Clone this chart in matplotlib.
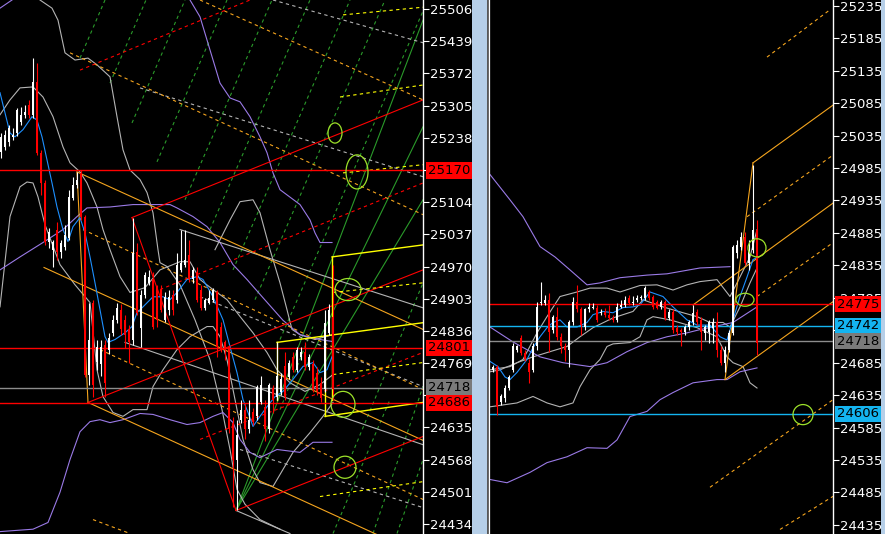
import matplotlib
matplotlib.use("Agg")
import matplotlib.pyplot as plt
from matplotlib.patches import Ellipse, Rectangle
from matplotlib.lines import Line2D

RED = "#ff0000"
ORANGE = "#f5a51e"
YELLOW = "#ffff00"
GREEN = "#2a9a2a"
SILVER = "#b4b4b4"
GRAYH = "#8c8c8c"
PURPLE = "#9a7ae6"
BLUE = "#1e90ff"
SKY = "#14b4f0"
LIME = "#9de22a"
GRAYBOX = "#7a7a7a"

# ---------------- left chart data ----------------
l_open = [25209, 25219, 25230, 25240, 25248, 25271, 25286, 25307, 25286, 25354,
          25207, 25144, 25022, 25005, 25047, 25001, 25011, 25030, 25113, 25140,
          25165, 25074, 24745, 24895, 24772, 24766, 24807, 24797, 24832, 24859,
          24880, 24859, 24839, 24818, 25001, 24843, 24911, 24936, 24943, 24928,
          24922, 24859, 24880, 24911, 24901, 24963, 24974, 24995, 24943, 24959,
          24922, 24884, 24895, 24901, 24916, 24845, 24812, 24803, 24645, 24568,
          24651, 24672, 24631, 24668, 24658, 24687, 24678, 24631, 24718, 24699,
          24708, 24762, 24739, 24782, 24755, 24782, 24791, 24760, 24766, 24749,
          24728, 24714, 24832, 24864]
l_high = [25248, 25255, 25265, 25259, 25300, 25302, 25307, 25317, 25404, 25394,
          25213, 25151, 25051, 25026, 25063, 25026, 25057, 25130, 25157, 25167,
          25171, 25078, 24895, 24901, 24818, 24818, 24818, 24832, 24870, 24895,
          24891, 24870, 24849, 25072, 25020, 24922, 24959, 24963, 24959, 24932,
          24932, 24916, 24922, 24922, 24999, 25047, 25047, 25026, 24968, 24968,
          24932, 24905, 24922, 24926, 24922, 24855, 24818, 24807, 24656, 24651,
          24693, 24683, 24693, 24676, 24724, 24741, 24693, 24728, 24724, 24812,
          24749, 24793, 24776, 24793, 24803, 24803, 24812, 24787, 24776, 24760,
          24739, 24880, 24891, 24974]
l_low = [25196, 25213, 25221, 25234, 25242, 25265, 25280, 25280, 25280, 25203,
         25119, 25015, 25009, 24970, 24984, 24988, 25005, 25026, 25109, 25134,
         25067, 24739, 24724, 24699, 24755, 24741, 24699, 24787, 24826, 24853,
         24828, 24801, 24770, 24807, 24870, 24803, 24905, 24932, 24839, 24845,
         24876, 24855, 24870, 24870, 24895, 24959, 24968, 24938, 24936, 24897,
         24880, 24880, 24891, 24897, 24782, 24793, 24776, 24624, 24470, 24464,
         24645, 24610, 24624, 24641, 24651, 24683, 24606, 24624, 24666, 24693,
         24703, 24693, 24735, 24751, 24751, 24776, 24755, 24755, 24708, 24703,
         24687, 24708, 24828, 24693]
l_close = [25240, 25244, 25259, 25244, 25296, 25286, 25292, 25286, 25354, 25207,
           25144, 25022, 25042, 25022, 25001, 25020, 25036, 25115, 25140, 25151,
           25074, 24745, 24818, 24724, 24803, 24803, 24728, 24822, 24859, 24884,
           24839, 24828, 24812, 24999, 24874, 24911, 24953, 24949, 24845, 24859,
           24880, 24907, 24907, 24880, 24974, 24978, 24984, 24943, 24963, 24901,
           24884, 24901, 24905, 24922, 24803, 24797, 24797, 24631, 24568, 24620,
           24672, 24631, 24651, 24647, 24720, 24724, 24631, 24724, 24693, 24741,
           24735, 24699, 24770, 24755, 24797, 24793, 24760, 24782, 24714, 24710,
           24697, 24853, 24880, 24714]

l_ticks = [25506, 25439, 25372, 25305, 25238, 25170, 25104, 25037, 24970, 24903,
           24836, 24769, 24702, 24635, 24568, 24501, 24434]
l_marks = [(25170, RED), (24801, RED), (24718, GRAYBOX), (24686, RED)]

l_blue = [(-0.25, 25332), (1.0, 25290), (2.25, 25248), (3.5, 25240), (5.5, 25255), (7.75, 25282),
          (9.0, 25275), (10.25, 25240), (11.5, 25192), (12.75, 25144), (14.0, 25094), (15.5, 25047),
          (16.75, 25022), (18.0, 25053), (19.75, 25072), (21.0, 25040), (22.25, 24990), (23.5, 24936),
          (24.75, 24880), (26.0, 24824), (26.75, 24812), (28.5, 24818), (31.0, 24832), (32.75, 24845),
          (34.0, 24874), (35.5, 24886), (38.0, 24907), (40.5, 24907), (42.25, 24901), (44.0, 24916),
          (46.5, 24943), (49.0, 24949), (50.5, 24943), (53.0, 24907), (55.5, 24859), (57.25, 24803),
          (59.0, 24749), (60.5, 24693), (61.75, 24666), (63.0, 24637), (64.75, 24658), (66.5, 24678),
          (68.5, 24699), (70.5, 24710), (73.0, 24735), (75.5, 24762), (78.0, 24770), (79.75, 24749),
          (81.5, 24755), (82.75, 24782)]
l_bb_upper = [(-0.25, 25286), (2.25, 25317), (4.75, 25342), (8.0, 25344), (10.5, 25323), (13.0, 25282),
              (15.5, 25219), (17.25, 25186), (19.75, 25167), (21.5, 25144), (24.0, 25094), (25.5, 25047),
              (27.25, 25005), (29.75, 24949), (32.25, 24916), (36.0, 24926), (39.75, 24963), (44.75, 24980),
              (47.25, 24980), (49.75, 24943), (53.0, 24922), (56.5, 24901), (59.75, 24866), (63.0, 24832),
              (66.5, 24791), (69.0, 24755), (72.25, 24728), (76.0, 24710), (79.75, 24724), (83.0, 24745)]
l_bb_lower = [(-0.25, 24886), (2.25, 25074), (4.75, 25136), (6.5, 25146), (8.0, 25144), (9.25, 25115),
              (11.0, 25057), (14.75, 24974), (18.5, 24932), (22.25, 24895), (24.0, 24755), (25.5, 24699),
              (28.0, 24666), (30.5, 24658), (33.0, 24672), (36.5, 24672), (38.0, 24720), (40.5, 24755),
              (44.0, 24797), (47.25, 24824), (51.5, 24845), (53.0, 24845), (54.75, 24824), (56.5, 24776),
              (58.5, 24693), (60.5, 24610), (63.0, 24547), (64.75, 24520), (68.0, 24512), (73.0, 24583),
              (77.25, 24624), (80.5, 24658), (83.0, 24687)]
l_wide_a = [(9.75, 25525), (12.75, 25508), (14.25, 25483), (16.0, 25415), (18.5, 25400), (21.75, 25404),
            (24.0, 25390), (27.25, 25365), (29.0, 25282), (30.5, 25213), (32.25, 25171), (34.75, 25151),
            (36.5, 25124), (38.0, 25082), (39.25, 25005), (39.75, 24978), (41.5, 24970), (44.75, 24932),
            (48.5, 24859), (52.25, 24776), (55.25, 24672), (57.25, 24589), (59.0, 24506), (61.0, 24475),
            (64.75, 24443), (69.75, 24423)]
l_wide_b = [(53.5, 25005), (57.25, 25067), (59.75, 25105), (63.0, 25109), (64.75, 25082), (67.25, 25005),
            (69.75, 24936), (71.5, 24880), (72.75, 24839), (74.75, 24828), (78.5, 24818), (83.0, 24828)]
l_purple_a = [(47.25, 25525), (49.75, 25490), (52.25, 25421), (54.75, 25352), (57.25, 25321),
              (59.75, 25313), (62.25, 25282), (64.75, 25240), (66.5, 25207), (68.0, 25165), (69.75, 25130),
              (74.75, 25099), (77.25, 25067), (78.5, 25040), (79.75, 25020), (82.75, 25020)]
l_purple_b = [(-0.25, 24963), (4.75, 24990), (10.5, 25020), (15.5, 25047), (19.0, 25074), (21.5, 25092),
              (27.25, 25094), (33.0, 25099), (42.25, 25099), (44.0, 25092), (48.0, 25074), (51.5, 25053),
              (54.75, 25020), (58.0, 24974), (61.5, 24943), (65.5, 24905), (70.5, 24858), (74.75, 24828),
              (79.75, 24818), (82.75, 24814)]
l_purple_c = [(-0.25, 24418), (8.0, 24423), (11.75, 24437), (14.75, 24500), (17.25, 24568), (19.75, 24626),
              (22.25, 24647), (24.75, 24651), (27.25, 24645), (30.5, 24651), (34.75, 24664), (38.0, 24662),
              (42.25, 24651), (46.5, 24641), (49.75, 24645), (53.0, 24658), (55.5, 24666), (58.0, 24645),
              (59.75, 24610), (62.25, 24583), (64.75, 24572), (69.0, 24589), (74.75, 24583), (78.0, 24604),
              (82.75, 24604)]
l_purple_d = [(-0.25, 25508), (2.75, 25525)]

l_orange = [((19.0, 25167), (105.5, 24839)), ((10.75, 24968), (105.5, 24608)),
            ((21.75, 24687), (105.5, 24368)), ((19.0, 25167), (21.75, 24687))]
l_gray = [((44.75, 25047), (105.5, 24884)), ((31.0, 24812), (105.5, 24599)),
          ((58.75, 24462), (72.25, 24414))]
l_red = [((21.75, 24687), (105.5, 24963)), ((32.75, 25072), (105.5, 25317)),
         ((32.75, 25072), (58.75, 24462)), ((58.75, 24462), (105.5, 24616))]
l_red_dash = [((19.75, 25379), (62.25, 25525)), ((39.75, 24922), (105.5, 25144)),
              ((49.75, 24610), (105.5, 24791))]
l_gray_dash = [((34.75, 25342), (105.5, 25157)), ((68.0, 25525), (105.5, 25436)),
               ((49.75, 24907), (105.5, 24720)), ((59.75, 24589), (105.5, 24468))]
l_orange_dash = [((17.25, 25415), (105.5, 25078)), ((49.75, 25525), (105.5, 25317)),
                 ((20.5, 25047), (105.5, 24714)), ((24.75, 24797), (105.5, 24485)),
                 ((23.0, 24443), (32.25, 24414))]
l_yellow = [((69.0, 24812), (105.5, 24853)), ((69.0, 24812), (69.0, 24693)),
            ((81.0, 24658), (105.5, 24687)), ((81.0, 24818), (81.0, 24658)),
            ((82.75, 24990), (82.75, 24693)), ((82.75, 24990), (105.5, 25015))]
l_yellow_dash = [((85.5, 25494), (105.5, 25510)), ((84.75, 25323), (105.5, 25348)),
                 ((85.5, 25165), (105.5, 25182)), ((83.0, 24916), (105.5, 24936)),
                 ((83.0, 24745), (105.5, 24770)), ((79.75, 24491), (105.5, 24522))]
l_green = [((58.75, 24462), (105.5, 25483)), ((58.75, 24462), (105.5, 25261)),
           ((58.75, 24462), (105.5, 25109))]
l_green_dash = [((19.75, 25404), (26.0, 25525)), ((27.25, 25352), (36.25, 25525)),
                ((32.75, 25269), (46.0, 25525)), ((39.0, 25188), (56.5, 25525)),
                ((46.0, 25109), (67.75, 25525)), ((52.25, 25047), (77.25, 25525)),
                ((58.0, 24963), (87.25, 25525)), ((63.5, 24901), (96.0, 25525)),
                ((69.75, 24818), (105.5, 25502)), ((69.75, 24672), (78.0, 24845)),
                ((83.0, 24414), (97.25, 24693)), ((86.5, 24554), (105.5, 24936)),
                ((93.0, 24414), (105.5, 24720)), ((99.0, 24414), (105.5, 24568))]
l_rings = [(83.5, 25248, 3.5, 42), (89.0, 25167, 5.5, 71), (86.75, 24922, 6.5, 46),
           (85.5, 24683, 6.0, 54), (86.0, 24552, 5.5, 46)]

# ---------------- right chart data ----------------
r_open = [24674, 24679, 24625, 24631, 24646, 24674, 24705, 24723, 24700, 24685,
          24674, 24710, 24777, 24777, 24782, 24736, 24756, 24725, 24710, 24705,
          24747, 24779, 24767, 24740, 24767, 24770, 24770, 24762, 24763, 24759,
          24754, 24751, 24771, 24774, 24785, 24777, 24782, 24785, 24785,
          24794, 24787, 24779, 24771, 24779, 24754, 24763, 24739, 24736, 24733,
          24740, 24747, 24763, 24751, 24731, 24733, 24739, 24748, 24705, 24685,
          24705, 24731, 24854, 24864, 24879, 24839, 24859, 24890]
r_high = [24682, 24682, 24636, 24651, 24666, 24716, 24712, 24728, 24705, 24690,
          24716, 24779, 24810, 24790, 24793, 24759, 24771, 24731, 24716, 24751,
          24787, 24805, 24771, 24770, 24777, 24777, 24774, 24767, 24770, 24774,
          24759, 24777, 24782, 24788, 24790, 24788, 24790, 24790, 24803,
          24797, 24790, 24782, 24782, 24782, 24767, 24767, 24743, 24739, 24743,
          24751, 24774, 24767, 24756, 24743, 24751, 24754, 24763, 24710, 24710,
          24736, 24867, 24874, 24887, 24887, 24874, 24990, 24905]
r_low = [24671, 24605, 24620, 24625, 24643, 24671, 24702, 24697, 24687, 24654,
         24671, 24705, 24774, 24774, 24702, 24731, 24720, 24700, 24687, 24679,
         24743, 24763, 24728, 24736, 24763, 24767, 24747, 24759, 24756, 24751,
         24747, 24748, 24770, 24771, 24774, 24774, 24779, 24782, 24782,
         24782, 24767, 24767, 24768, 24751, 24751, 24731, 24728, 24710, 24728,
         24736, 24743, 24743, 24705, 24720, 24716, 24716, 24694, 24682, 24670,
         24702, 24728, 24847, 24859, 24836, 24828, 24854, 24697]
r_close = [24679, 24617, 24633, 24646, 24663, 24710, 24710, 24700, 24690, 24671,
           24710, 24771, 24779, 24782, 24733, 24756, 24725, 24710, 24705, 24747,
           24779, 24767, 24743, 24767, 24771, 24771, 24751, 24763, 24759, 24754,
           24751, 24771, 24774, 24782, 24777, 24779, 24785, 24787, 24800,
           24785, 24771, 24770, 24779, 24754, 24763, 24736, 24733, 24733, 24740,
           24747, 24762, 24747, 24733, 24740, 24747, 24748, 24705, 24685, 24705,
           24731, 24864, 24867, 24879, 24839, 24859, 24890, 24716]

r_ticks = [25235, 25185, 25135, 25085, 25035, 24985, 24935, 24885, 24835, 24785,
           24735, 24685, 24635, 24585, 24535, 24485, 24435]
r_marks = [(24775, RED), (24742, SKY), (24718, GRAYBOX), (24606, SKY)]

r_blue = [(-0.75, 24687), (1.25, 24679), (3.0, 24663), (4.25, 24659), (6.0, 24670), (8.5, 24690),
          (10.0, 24708), (11.75, 24725), (13.5, 24739), (15.0, 24747), (16.75, 24751), (18.5, 24740),
          (21.0, 24740), (23.5, 24747), (25.0, 24759), (27.5, 24764), (30.0, 24762), (32.5, 24770),
          (35.0, 24771), (36.75, 24774), (39.25, 24794), (42.5, 24787), (45.0, 24771), (48.5, 24751),
          (51.0, 24743), (54.25, 24743), (56.75, 24725), (58.5, 24720), (60.0, 24751), (61.75, 24787),
          (63.5, 24817), (65.0, 24844), (66.0, 24847)]
r_bb_upper = [(-0.75, 24674), (4.25, 24679), (7.5, 24690), (11.0, 24731), (13.5, 24756), (16.75, 24787),
              (21.0, 24794), (24.25, 24800), (28.5, 24800), (31.75, 24794), (36.75, 24804), (41.0, 24805),
              (45.0, 24797), (48.5, 24805), (51.75, 24810), (56.0, 24813), (58.5, 24793), (59.25, 24787),
              (61.0, 24808), (64.25, 24848), (66.0, 24890)]
r_bb_mid = [(-0.75, 24671), (1.75, 24674), (6.0, 24685), (10.0, 24694), (14.25, 24702), (18.5, 24710),
            (21.75, 24725), (25.0, 24739), (30.0, 24754), (35.0, 24764), (37.5, 24782), (42.5, 24771),
            (47.5, 24762), (51.0, 24756), (54.25, 24747), (57.5, 24747), (59.25, 24740), (61.75, 24771),
            (64.25, 24808), (66.0, 24831)]
r_bb_lower = [(-0.75, 24617), (6.0, 24623), (10.0, 24633), (13.5, 24623), (16.75, 24617), (20.0, 24623),
              (21.75, 24648), (24.25, 24674), (26.75, 24690), (28.5, 24710), (30.0, 24714), (34.25, 24716),
              (36.75, 24725), (38.5, 24751), (40.0, 24756), (44.25, 24751), (51.0, 24739), (56.0, 24725),
              (58.5, 24694), (60.0, 24685), (62.5, 24679), (64.25, 24654), (66.0, 24646)]
r_purple_a = [(-0.75, 24975), (4.25, 24936), (7.5, 24910), (11.75, 24864), (15.5, 24848), (19.25, 24828),
              (23.5, 24805), (26.75, 24808), (31.75, 24816), (38.5, 24820), (43.5, 24822), (51.75, 24831),
              (59.25, 24833)]
r_purple_b = [(-0.75, 24740), (5.0, 24717), (11.75, 24694), (17.5, 24685), (24.25, 24679), (28.5, 24685),
              (33.5, 24702), (38.5, 24716), (43.5, 24725), (48.5, 24731), (51.75, 24736), (60.0, 24747),
              (66.0, 24771)]
r_purple_c = [(-0.75, 24505), (3.5, 24500), (9.25, 24516), (13.5, 24531), (18.5, 24540), (23.5, 24554),
              (28.5, 24553), (31.0, 24566), (34.25, 24602), (38.5, 24610), (41.75, 24628), (45.0, 24639),
              (50.0, 24654), (56.0, 24659), (58.5, 24659), (61.75, 24671), (66.0, 24677)]

r_orange = [((58.0, 24659), (65.0, 24993)), ((65.0, 24993), (85.0, 25082)),
            ((58.0, 24659), (85.0, 24779)), ((50.0, 24774), (85.0, 24931))]
r_orange_dash = [((68.5, 25156), (84.25, 25229)), ((63.5, 24910), (85.0, 25005)),
                 ((66.0, 24787), (85.0, 24870)), ((54.25, 24493), (85.0, 24628)),
                 ((71.75, 24428), (85.0, 24479))]
r_rings = [(66.0, 24862, 4.5, 28), (63.0, 24782, 4.5, 20), (77.5, 24605, 5.0, 31)]

# ---------------- drawing ----------------
fig = plt.figure(figsize=(8.85, 5.34), dpi=100, facecolor="black")
W = 885.0
axl = fig.add_axes([0, 0, 423 / W, 1])
axr = fig.add_axes([490 / W, 0, 343 / W, 1])

DASH = (0, (3.0, 3.0))


def curve(ax, pts, color, lw=0.8):
    xs, ys = zip(*pts)
    ax.plot(xs, ys, color=color, lw=lw, zorder=2, solid_joinstyle="round")


def segments(ax, segs, color, ls="-", lw=0.8, z=2):
    for (x0, y0), (x1, y1) in segs:
        ax.plot([x0, x1], [y0, y1], color=color, ls=ls, lw=lw, zorder=z)


def candles(ax, o, h, l, c, mn):
    for i in range(len(o)):
        col = "white" if c[i] >= o[i] else RED
        ax.vlines(i, l[i], h[i], color=col, lw=0.8, zorder=4)
        lo, hi = min(o[i], c[i]), max(o[i], c[i])
        ax.bar(i, max(hi - lo, mn), bottom=lo, width=0.72, color=col, lw=0, zorder=4)


def rings(ax, items):
    for x, y, w, h in items:
        ax.add_patch(Ellipse((x, y), w, h, fill=False, ec=LIME, lw=0.9, zorder=5))


def frame(ax, xlim, ylim, ticks, marks, xoff):
    ax.set_facecolor("black")
    ax.set_xlim(*xlim)
    ax.set_ylim(*ylim)
    ax.set_xticks([])
    ax.yaxis.tick_right()
    ax.set_yticks(ticks)
    covered = {p for p, _ in marks}
    # a tick whose price carries a marker box is hidden behind that box
    ax.set_yticklabels(["" if t in covered else str(t) for t in ticks])
    ax.tick_params(axis="y", colors="white", labelsize=9.5, length=4, width=0.8, pad=1)
    for s in ("top", "left", "bottom"):
        ax.spines[s].set_visible(False)
    ax.spines["right"].set_color("white")
    ax.spines["right"].set_linewidth(1.0)
    for price, col in marks:
        ax.text(xoff, price, str(price), transform=ax.get_yaxis_transform(), color="black",
                fontsize=9.5, ha="left", va="center", zorder=10, clip_on=False,
                bbox=dict(boxstyle="square,pad=0.12", fc=col, ec="none"))


# left chart
for price, col in [(25170, RED), (24801, RED), (24686, RED)]:
    axl.axhline(price, color=col, lw=1.0, zorder=3)
axl.axhline(24718, color=GRAYH, lw=1.0, zorder=3)
segments(axl, l_green_dash, GREEN, DASH)
segments(axl, l_green, GREEN)
for pts, col in [(l_bb_upper, SILVER), (l_bb_lower, SILVER), (l_wide_a, SILVER), (l_wide_b, SILVER),
                 (l_purple_a, PURPLE), (l_purple_b, PURPLE), (l_purple_c, PURPLE),
                 (l_purple_d, PURPLE)]:
    curve(axl, pts, col)
segments(axl, l_gray_dash, SILVER, DASH)
segments(axl, l_gray, SILVER)
segments(axl, l_orange_dash, ORANGE, DASH)
segments(axl, l_orange, ORANGE)
segments(axl, l_red_dash, RED, DASH)
segments(axl, l_red, RED)
segments(axl, l_yellow_dash, YELLOW, DASH)
segments(axl, l_yellow, YELLOW, lw=1.0)
curve(axl, l_blue, BLUE)
candles(axl, l_open, l_high, l_low, l_close, 2.0)
rings(axl, l_rings)
frame(axl, (-0.25, 105.5), (24413, 25525), l_ticks, l_marks, 1 + 5 / 423)

# right chart
axr.axhline(24775, color=RED, lw=1.0, zorder=3)
axr.axhline(24742, color=SKY, lw=1.0, zorder=3)
axr.axhline(24718, color=GRAYH, lw=1.0, zorder=3)
axr.axhline(24606, color=SKY, lw=1.0, zorder=3)
for pts, col in [(r_bb_upper, SILVER), (r_bb_mid, SILVER), (r_bb_lower, SILVER),
                 (r_purple_a, PURPLE), (r_purple_b, PURPLE), (r_purple_c, PURPLE)]:
    curve(axr, pts, col)
segments(axr, r_orange_dash, ORANGE, DASH)
segments(axr, r_orange, ORANGE)
curve(axr, r_blue, BLUE)
candles(axr, r_open, r_high, r_low, r_close, 1.6)
rings(axr, r_rings)
frame(axr, (-0.75, 85.0), (24421, 25244), r_ticks, r_marks, 1 + 4 / 343)

# window separators
fig.add_artist(Rectangle((472 / W, 0), 15 / W, 1, transform=fig.transFigure,
                         fc="#b6cfe8", ec="none", zorder=20))
fig.add_artist(Line2D([487.5 / W] * 2, [0, 1], transform=fig.transFigure,
                      color="#6a6a6a", lw=1.2, zorder=21))
fig.add_artist(Line2D([489.3 / W] * 2, [0, 1], transform=fig.transFigure,
                      color="white", lw=0.9, zorder=21))
fig.add_artist(Rectangle((881 / W, 0), 4 / W, 1, transform=fig.transFigure,
                         fc="#b6cfe8", ec="none", zorder=20))

fig.savefig("out.png", dpi=100, facecolor="black")
